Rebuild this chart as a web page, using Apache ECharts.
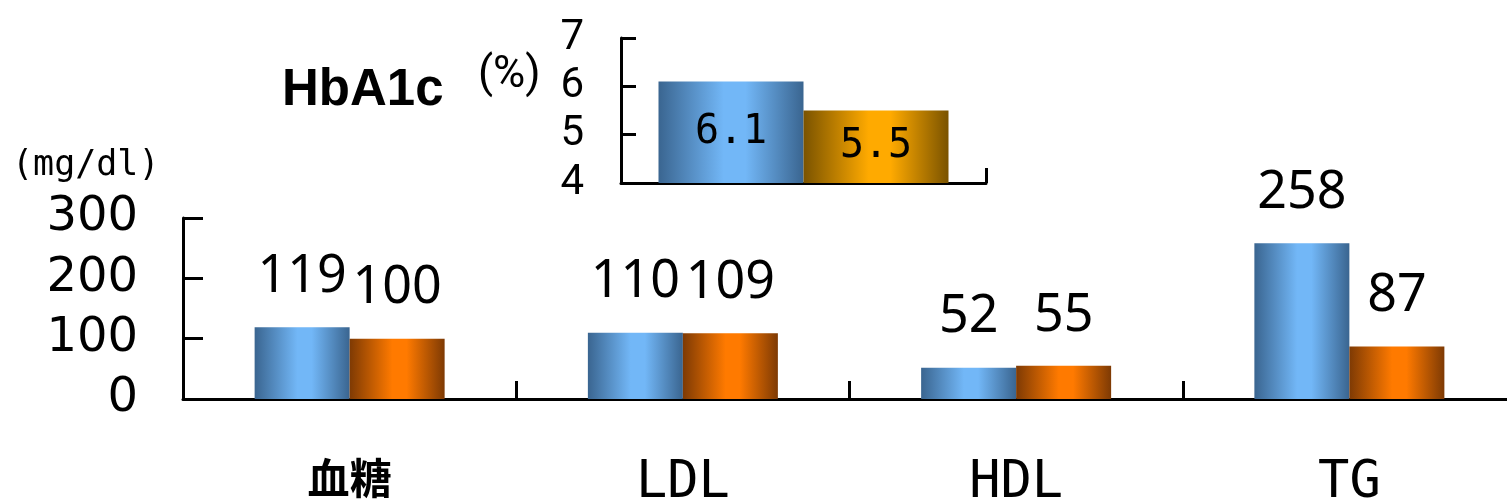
<!DOCTYPE html>
<html>
<head>
<meta charset="utf-8">
<script src="https://cdn.jsdelivr.net/npm/echarts@6/dist/echarts.min.js"></script>
<style>
  html, body { margin: 0; padding: 0; background: #fff; overflow: hidden; }
  #chart { width: 1507px; height: 504px; }
</style>
</head>
<body>
<div id="chart"></div>
<script>
// Lipid / glucose panel (mg/dl) with HbA1c (%) inset
const categories = ['血糖', 'LDL', 'HDL', 'TG'];
const beforeValues = [119, 110, 52, 258];
const afterValues = [100, 109, 55, 87];
const mainTicks = { min: 0, max: 300, interval: 100 };

const hbaCategories = ['HbA1c'];
const hbaBefore = [6.1];
const hbaAfter = [5.5];
const hbaTicks = { min: 4, max: 7, interval: 1 };

const NARROW = 'Roboto, "Noto Sans", sans-serif';
const MONO = '"DejaVu Sans Mono", "Liberation Mono", monospace';

function barGradient(edge, mid) {
  return new echarts.graphic.LinearGradient(0, 0, 1, 0, [
    { offset: 0, color: edge },
    { offset: 0.45, color: mid },
    { offset: 0.6, color: mid },
    { offset: 1, color: edge }
  ]);
}
const blueFill = barGradient('#3a6590', '#72b7f7');
const orangeFill = barGradient('#7e3a04', '#ff7a00');
const goldFill = barGradient('#7a5300', '#ffaa00');

const axisLine = { show: true, lineStyle: { color: '#000', width: 3 } };

const chart = echarts.init(document.getElementById('chart'), null, { renderer: 'canvas' });

chart.setOption({
  animation: false,
  backgroundColor: '#fff',
  grid: [
    // main panel runs past the right edge, as the last category is cut off
    { left: 183, top: 218, width: 1333, height: 181, containLabel: false, outerBoundsMode: 'none' },
    { left: 621, top: 38, width: 365, height: 145, containLabel: false, outerBoundsMode: 'none' }
  ],
  graphic: [
    { type: 'text', left: 12, top: 148,
      style: { text: '(mg/dl)', font: '35px ' + MONO, fill: '#000' } },
    { type: 'text', left: 282, top: 65,
      style: { text: 'HbA1c', font: 'bold 51px "Liberation Sans", Arial, sans-serif', fill: '#000' } },
    { type: 'text', left: 478, top: 54,
      style: { text: '(%)', font: '44px ' + NARROW, fill: '#000' } }
  ],
  xAxis: [
    {
      type: 'category', gridIndex: 0, data: categories,
      axisLine: axisLine,
      axisTick: { show: true, inside: true, length: 18, lineStyle: { color: '#000', width: 3 } },
      axisLabel: {
        margin: 58,
        formatter: v => /^[A-Za-z]+$/.test(v) ? '{lat|' + v + '}' : '{cjk|' + v + '}',
        rich: {
          lat: { fontFamily: MONO, fontSize: 52, color: '#000' },
          cjk: { fontFamily: '"Noto Sans CJK JP", sans-serif', fontWeight: 'bold', fontSize: 42, color: '#000' }
        }
      }
    },
    {
      type: 'category', gridIndex: 1, data: hbaCategories,
      axisLine: axisLine,
      axisTick: { show: true, inside: true, length: 15, lineStyle: { color: '#000', width: 3 } },
      axisLabel: { show: false }
    }
  ],
  yAxis: [
    {
      type: 'value', gridIndex: 0,
      min: mainTicks.min, max: mainTicks.max, interval: mainTicks.interval,
      axisLine: axisLine,
      axisTick: { show: true, inside: true, length: 20, lineStyle: { color: '#000', width: 3 } },
      splitLine: { show: false },
      axisLabel: { margin: 45, fontFamily: '"DejaVu Sans", sans-serif', fontSize: 48, color: '#000' }
    },
    {
      type: 'value', gridIndex: 1,
      min: hbaTicks.min, max: hbaTicks.max, interval: hbaTicks.interval,
      axisLine: axisLine,
      axisTick: { show: true, inside: true, length: 15, lineStyle: { color: '#000', width: 3 } },
      splitLine: { show: false },
      axisLabel: { margin: 37, fontFamily: NARROW, fontSize: 42, color: '#000' }
    }
  ],
  series: [
    {
      type: 'bar', xAxisIndex: 0, yAxisIndex: 0, data: beforeValues,
      barWidth: 95, barGap: '0%',
      itemStyle: { color: blueFill },
      label: { show: true, position: 'top', distance: 24, fontFamily: '"Noto Sans", sans-serif', fontSize: 52, color: '#000' }
    },
    {
      type: 'bar', xAxisIndex: 0, yAxisIndex: 0, data: afterValues,
      barWidth: 95, barGap: '0%',
      itemStyle: { color: orangeFill },
      label: { show: true, position: 'top', distance: 24, fontFamily: '"Noto Sans", sans-serif', fontSize: 52, color: '#000' }
    },
    {
      type: 'bar', xAxisIndex: 1, yAxisIndex: 1, data: hbaBefore,
      barWidth: 145, barGap: '0%',
      itemStyle: { color: blueFill },
      label: { show: true, position: 'inside', fontFamily: MONO, fontSize: 40, color: '#000',
               formatter: p => p.value.toFixed(1) }
    },
    {
      type: 'bar', xAxisIndex: 1, yAxisIndex: 1, data: hbaAfter,
      barWidth: 145, barGap: '0%',
      itemStyle: { color: goldFill },
      label: { show: true, position: 'inside', fontFamily: MONO, fontSize: 40, color: '#000',
               formatter: p => p.value.toFixed(1) }
    }
  ]
});
</script>
</body>
</html>
